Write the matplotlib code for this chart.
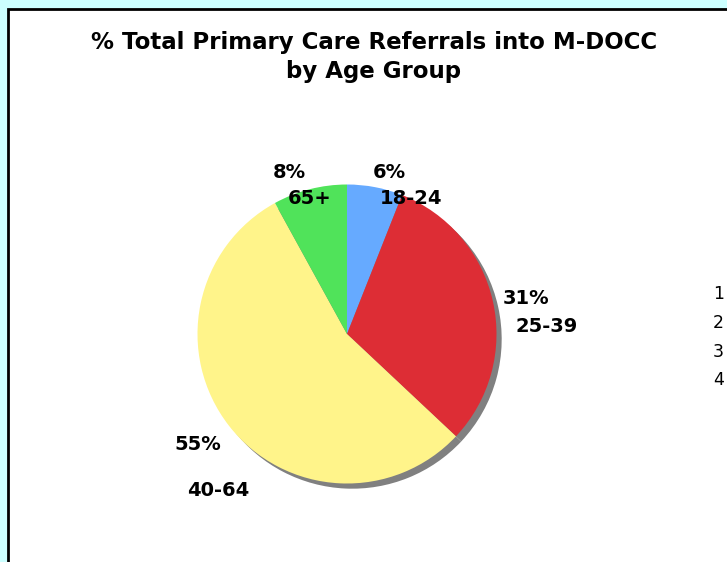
import matplotlib
matplotlib.use("Agg")
import matplotlib.pyplot as plt
from matplotlib.patches import Rectangle

# ---- data ----
categories = ["18-24", "25-39", "40-64", "65+"]
values = [6, 31, 55, 8]
pct_labels = ["6%", "31%", "55%", "8%"]
legend_labels = ["1", "2", "3", "4"]
colors = ["#66aaff", "#dd2d35", "#fff48a", "#50e35a"]
title = "% Total Primary Care Referrals into M-DOCC\nby Age Group"

# ---- layout (label positions in pie-radius units) ----
pct_pos = [(0.28, 1.08), (1.197, 0.24), (-1.0, -0.737), (-0.387, 1.08)]
cat_pos = [(0.427, 0.907), (1.337, 0.047), (-0.86, -1.047), (-0.247, 0.907)]

W, H = 727, 562
fig = plt.figure(figsize=(W / 100, H / 100), dpi=100)
fig.patch.set_facecolor("#ccffff")

panel = Rectangle((8 / W, -0.1), 1.2, 1.1 - 9 / H, transform=fig.transFigure,
                  facecolor="white", edgecolor="black", linewidth=2, zorder=-10)
fig.patches.append(panel)

cx, cy, r = 347, 334, 149.5
ax = fig.add_axes([(cx - r) / W, (H - cy - r) / H, 2 * r / W, 2 * r / H])
ax.set_zorder(1)

wedges, _ = ax.pie(values, colors=colors, startangle=90, counterclock=False,
                   radius=1.0,
                   shadow={"ox": 0.025, "oy": -0.025, "facecolor": "#808080",
                           "edgecolor": "#808080", "alpha": 1.0},
                   wedgeprops={"linewidth": 0})
ax.set_xlim(-1, 1)
ax.set_ylim(-1, 1)
ax.set_aspect("equal")
ax.axis("off")

fs = 14
for (x, y), t in zip(pct_pos, pct_labels):
    ax.text(x, y, t, ha="center", va="center", fontsize=fs, fontweight="bold",
            family="DejaVu Sans", clip_on=False)
for (x, y), t in zip(cat_pos, categories):
    ax.text(x, y, t, ha="center", va="center", fontsize=fs, fontweight="bold",
            family="DejaVu Sans", clip_on=False)

fig.text(374 / W, 1 - 57 / H, title, ha="center", va="center", fontsize=16.5,
         fontweight="bold", family="DejaVu Sans", linespacing=1.3)

leg = fig.legend(wedges, legend_labels, loc="upper left",
                 bbox_to_anchor=(713 / W, 1 - 285 / H), frameon=False,
                 handlelength=0, handletextpad=0, fontsize=12.5,
                 labelspacing=0.62, borderaxespad=0, borderpad=0)
for h in leg.legend_handles:
    h.set_visible(False)

fig.savefig("out.png", dpi=100, facecolor=fig.get_facecolor())
